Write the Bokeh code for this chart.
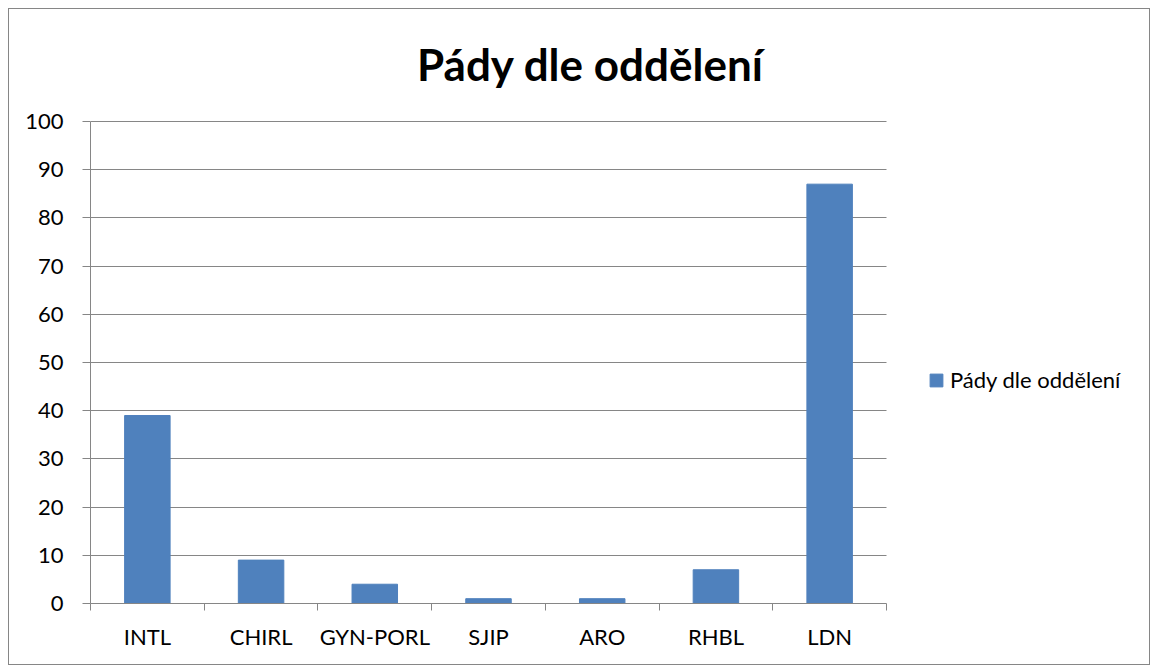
from bokeh.plotting import figure
from bokeh.models import (Range1d, LinearAxis, FixedTicker, Label,
                          Legend, LegendItem, ColumnDataSource)
from bokeh.embed import file_html
from bokeh.resources import INLINE

categories = ["INTL", "CHIRL", "GYN-PORL", "SJIP", "ARO", "RHBL", "LDN"]
values = [39, 9, 4, 1, 1, 7, 87]
y_ticks = [0, 10, 20, 30, 40, 50, 60, 70, 80, 90, 100]
title_text = "Pády dle oddělení"
series_name = "Pády dle oddělení"

FONT = "Lato"
GRAY = "#868686"
BLUE = "#4F81BD"

W, H = 1142, 657
LEFT, TOP, RIGHT, BOTTOM = 81, 1, 2, 63
PLOT_W = 796  # pixel width of the category area; the rest of the frame holds the legend
PLOT_H = 482  # pixel height of the 0..100 value area; the rest holds the title

n = len(categories)
y_max = max(y_ticks)
centers = [i + 0.5 for i in range(n)]
bounds = list(range(n + 1))
frame_w = W - LEFT - RIGHT
frame_h = H - TOP - BOTTOM
x_end = n * frame_w / PLOT_W
y_end = y_max * frame_h / PLOT_H

src = ColumnDataSource(dict(x=centers, val=values, cat=categories))

p = figure(width=W, height=H, output_backend="svg", toolbar_location=None,
           x_range=Range1d(0, x_end), y_range=Range1d(0, y_end),
           x_axis_location=None, y_axis_location=None,
           min_border_left=LEFT, min_border_right=RIGHT, min_border_top=TOP, min_border_bottom=BOTTOM,
           background_fill_color="white", border_fill_color="white",
           outline_line_color=None,
           styles={"margin": "8px 0 0 8px", "border": "1px solid #868686"})

r = p.vbar(x="x", top="val", width=0.4, source=src, fill_color=BLUE, line_color=BLUE)

# y axis
ya = LinearAxis(ticker=FixedTicker(ticks=y_ticks), bounds=(0, y_max))
ya.axis_line_color = GRAY
ya.major_tick_line_color = GRAY
ya.major_tick_out = 8
ya.major_tick_in = 0
ya.minor_tick_line_color = None
ya.major_label_text_font = FONT
ya.major_label_text_font_size = "22px"
ya.major_label_text_color = "black"
ya.major_label_standoff = 19
p.add_layout(ya, "left")

# x axis: labels at category centers, tick marks (minor) at category boundaries
xa = LinearAxis(ticker=FixedTicker(ticks=centers, minor_ticks=bounds), bounds=(0, n))
xa.major_label_overrides = {c: lab for c, lab in zip(centers, categories)}
xa.axis_line_color = GRAY
xa.major_tick_line_color = None
xa.major_tick_out = 0
xa.major_tick_in = 0
xa.minor_tick_line_color = GRAY
xa.minor_tick_out = 7
xa.minor_tick_in = 0
xa.major_label_text_font = FONT
xa.major_label_text_font_size = "22px"
xa.major_label_text_color = "black"
xa.major_label_standoff = 12
p.add_layout(xa, "below")

p.xgrid.visible = False
p.ygrid.grid_line_color = GRAY
p.ygrid.ticker = FixedTicker(ticks=y_ticks)
p.ygrid.cross_bounds = (0, n)

title = Label(x=500, y=540, x_units="screen", y_units="screen", text=title_text,
              text_align="center", text_baseline="alphabetic",
              text_font=FONT, text_font_size="44px", text_font_style="bold",
              text_color="black")
p.add_layout(title)

legend = Legend(items=[LegendItem(label=series_name, renderers=[r])],
                location=(838, 210), border_line_color=None, background_fill_alpha=0,
                padding=0, margin=0, glyph_width=16, glyph_height=16, label_standoff=6,
                label_text_font=FONT, label_text_font_size="22px", label_text_color="black")
p.add_layout(legend, "center")

open("out.html", "w").write(file_html(p, INLINE))
